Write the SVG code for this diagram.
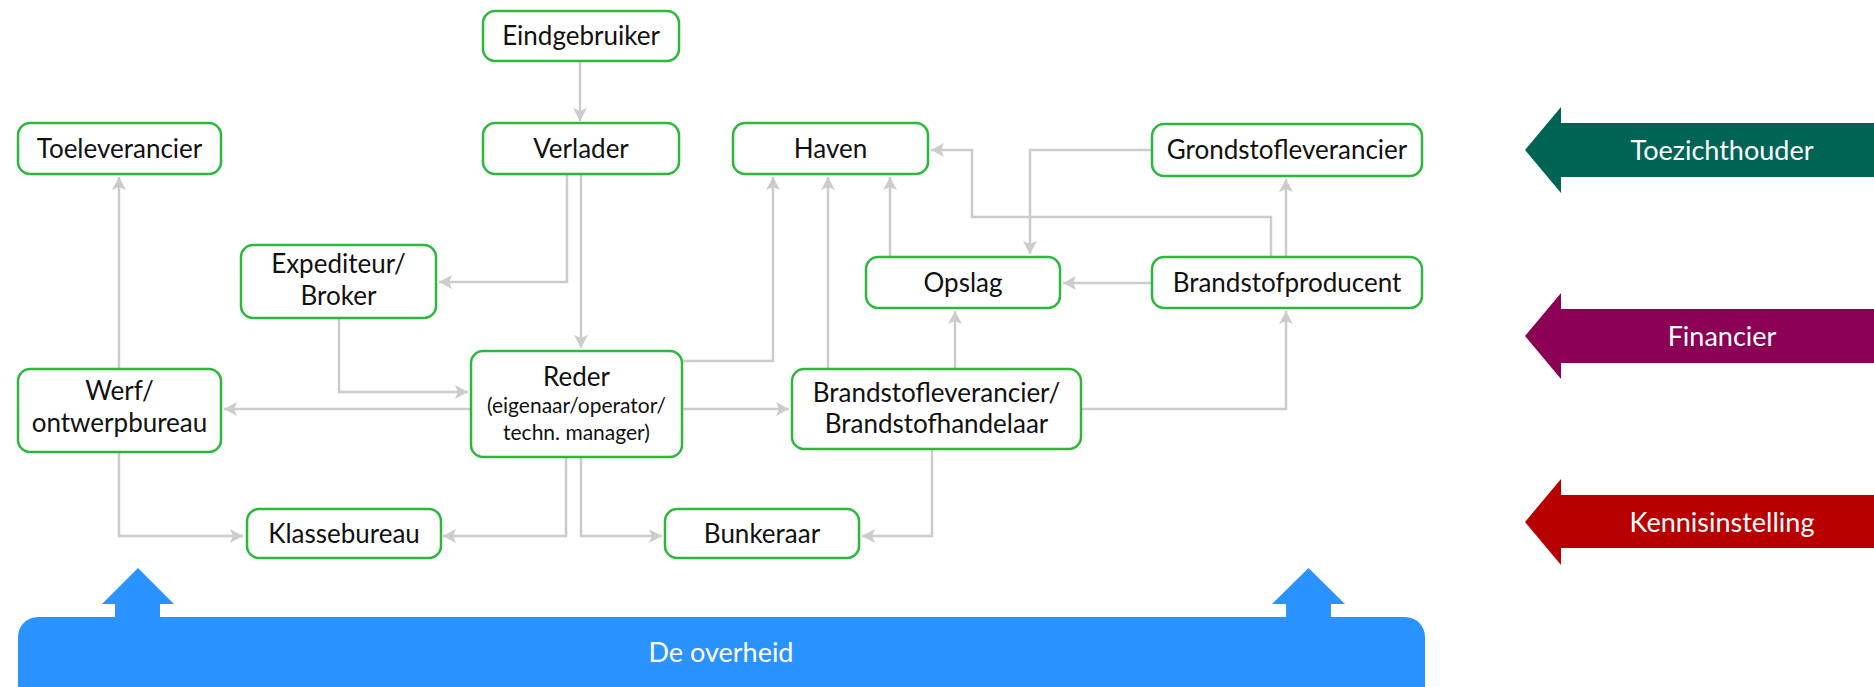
<svg xmlns="http://www.w3.org/2000/svg" width="1874" height="687" viewBox="0 0 1874 687">
<style>
.node rect{fill:#fff;stroke:#2DB83D;stroke-width:2.5}
.node text{font-family:Lato,"Noto Sans","Liberation Sans",sans-serif;font-size:26px;fill:#111;text-anchor:middle}
.node text.sub{font-size:21px}
.conn path{fill:none;stroke:#CCCCCC;stroke-width:2.5;marker-end:url(#ah)}
.lbl{font-family:Lato,"Noto Sans","Liberation Sans",sans-serif;font-size:27px;fill:#fff;text-anchor:middle}
</style>
<defs>
<marker id="ah" markerUnits="userSpaceOnUse" markerWidth="15" markerHeight="15" refX="13" refY="7" orient="auto">
<path d="M0,0 L13,7 L0,14 L3,7 z" fill="#CCCCCC"/>
</marker>
</defs>
<rect width="1874" height="687" fill="#fff"/>
<g id="connectors" class="conn">
<path d="M580,61 V121"/>
<path d="M567,174 V282 H439"/>
<path d="M581,174 V348"/>
<path d="M119,369 V177"/>
<path d="M339,318 V392 H468"/>
<path d="M471,409 H224"/>
<path d="M119,452 V536 H243"/>
<path d="M566,457 V536 H443"/>
<path d="M581,457 V536 H662"/>
<path d="M682,361 H773 V177"/>
<path d="M828,369 V177"/>
<path d="M890,257 V177"/>
<path d="M1271,257 V217 H972 V150 H931"/>
<path d="M1286,257 V179"/>
<path d="M1152,150 H1030 V254"/>
<path d="M1152,283 H1063"/>
<path d="M955,369 V311"/>
<path d="M682,409 H789"/>
<path d="M1081,409 H1286 V311"/>
<path d="M932,449 V536 H862"/>
</g>
<g id="eindgebruiker" class="node"><rect x="483" y="11" width="196" height="50" rx="12"/><text x="581" y="45">Eindgebruiker</text></g>
<g id="toeleverancier" class="node"><rect x="18" y="123" width="203" height="51" rx="12"/><text x="119.5" y="158">Toeleverancier</text></g>
<g id="verlader" class="node"><rect x="483" y="123" width="196" height="51" rx="12"/><text x="581" y="158">Verlader</text></g>
<g id="haven" class="node"><rect x="733" y="123" width="195" height="51" rx="12"/><text x="830.5" y="158">Haven</text></g>
<g id="grondstofleverancier" class="node"><rect x="1152" y="124" width="270" height="52" rx="12"/><text x="1287" y="159">Grondstofleverancier</text></g>
<g id="expediteur" class="node"><rect x="241" y="245" width="195" height="73" rx="12"/><text x="338.5" y="273">Expediteur/</text><text x="338.5" y="305">Broker</text></g>
<g id="opslag" class="node"><rect x="866" y="257" width="194" height="51" rx="12"/><text x="963" y="292">Opslag</text></g>
<g id="brandstofproducent" class="node"><rect x="1152" y="257" width="270" height="51" rx="12"/><text x="1287" y="292">Brandstofproducent</text></g>
<g id="werf" class="node"><rect x="18" y="369" width="203" height="83" rx="12"/><text x="119.5" y="400">Werf/</text><text x="119.5" y="432">ontwerpbureau</text></g>
<g id="reder" class="node"><rect x="471" y="351" width="211" height="106" rx="12"/><text x="576.5" y="386">Reder</text><text class="sub" x="576.5" y="413">(eigenaar/operator/</text><text class="sub" x="576.5" y="440">techn. manager)</text></g>
<g id="brandstofleverancier" class="node"><rect x="792" y="369" width="289" height="80" rx="12"/><text x="936.5" y="402">Brandstofleverancier/</text><text x="936.5" y="433">Brandstofhandelaar</text></g>
<g id="klassebureau" class="node"><rect x="247" y="509" width="194" height="49" rx="12"/><text x="344" y="543">Klassebureau</text></g>
<g id="bunkeraar" class="node"><rect x="665" y="509" width="194" height="49" rx="12"/><text x="762" y="543">Bunkeraar</text></g>
<g id="overheid">
<polygon points="138,568 174,604 160,604 160,620 115,620 115,604 102,604" fill="#2B93FF"/>
<polygon points="1308.5,568 1345,604 1331,604 1331,620 1286,620 1286,604 1272,604" fill="#2B93FF"/>
<rect x="18" y="617" width="1407" height="100" rx="20" fill="#2B93FF"/>
<text class="lbl" x="721" y="662">De overheid</text>
</g>
<g id="toezichthouder">
<polygon points="1525,150 1561,107 1561,123 1874,123 1874,177 1561,177 1561,193" fill="#006455"/>
<text class="lbl" x="1722" y="160">Toezichthouder</text>
</g>
<g id="financier">
<polygon points="1525,336 1561,293 1561,309 1874,309 1874,363 1561,363 1561,379" fill="#8B0055"/>
<text class="lbl" x="1722" y="346">Financier</text>
</g>
<g id="kennisinstelling">
<polygon points="1525,522 1561,479 1561,495 1874,495 1874,548 1561,548 1561,565" fill="#B90000"/>
<text class="lbl" x="1722" y="532">Kennisinstelling</text>
</g>
</svg>
